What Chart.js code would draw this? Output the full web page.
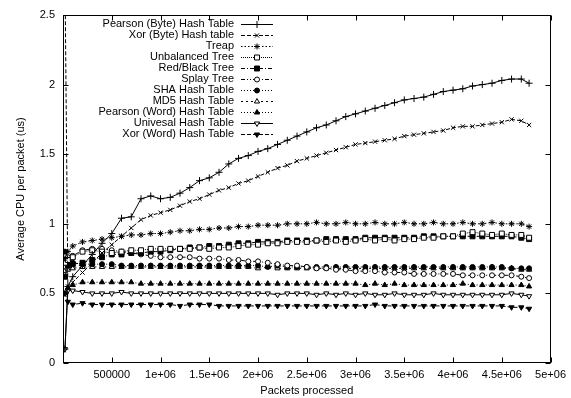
<!DOCTYPE html>
<html>
<head>
<meta charset="utf-8">
<script src="https://cdn.jsdelivr.net/npm/chart.js@4.4.1/dist/chart.umd.min.js"></script>
<style>
	body { margin: 0; background: #fff; }
	canvas { display: block; }
</style>
</head>
<body>
<canvas id="myChart" width="571" height="398"></canvas>
<script>
// packets processed (x values)
const packets = [
	20000, 50000, 100000, 200000, 300000, 400000, 500000, 600000, 700000, 800000,
	900000, 1000000, 1100000, 1200000, 1300000, 1400000, 1500000, 1600000, 1700000, 1800000,
	1900000, 2000000, 2100000, 2200000, 2300000, 2400000, 2500000, 2600000, 2700000, 2800000,
	2900000, 3000000, 3100000, 3200000, 3300000, 3400000, 3500000, 3600000, 3700000, 3800000,
	3900000, 4000000, 4100000, 4200000, 4300000, 4400000, 4500000, 4600000, 4700000, 4780000,
]

const labels = [
	'Pearson (Byte) Hash Table', 'Xor (Byte) Hash table', 'Treap', 'Unbalanced Tree',
	'Red/Black Tree', 'Splay Tree', 'SHA Hash Table', 'MD5 Hash Table',
	'Pearson (Word) Hash Table', 'Univesal Hash Table', 'Xor (Word) Hash Table',
]

const pearsonByte = [
	0.10, 0.55, 0.62, 0.70, 0.78, 0.86, 0.93, 1.04, 1.05, 1.18,
	1.20, 1.18, 1.19, 1.22, 1.26, 1.31, 1.33, 1.37, 1.43, 1.47,
	1.49, 1.52, 1.54, 1.57, 1.60, 1.63, 1.66, 1.69, 1.71, 1.74,
	1.77, 1.79, 1.81, 1.83, 1.85, 1.87, 1.89, 1.90, 1.91, 1.93,
	1.95, 1.96, 1.97, 1.99, 2.00, 2.01, 2.03, 2.04, 2.04, 2.01,
]
const xorByte = [
	2.80, 0.55, 0.58, 0.65, 0.72, 0.79, 0.85, 0.91, 0.97, 1.03,
	1.06, 1.08, 1.10, 1.13, 1.16, 1.18, 1.21, 1.24, 1.26, 1.29,
	1.31, 1.34, 1.37, 1.40, 1.42, 1.45, 1.47, 1.49, 1.51, 1.53,
	1.55, 1.57, 1.58, 1.59, 1.60, 1.61, 1.63, 1.64, 1.65, 1.66,
	1.67, 1.69, 1.70, 1.70, 1.71, 1.72, 1.73, 1.75, 1.74, 1.71,
]
const treap = [
	0.75, 0.80, 0.84, 0.87, 0.88, 0.89, 0.90, 0.91, 0.92, 0.92,
	0.93, 0.93, 0.94, 0.95, 0.95, 0.96, 0.96, 0.97, 0.97, 0.98,
	0.98, 0.99, 0.99, 0.99, 1.00, 1.00, 1.00, 1.01, 1.00, 1.00,
	1.01, 1.00, 1.00, 1.01, 1.00, 1.00, 1.01, 1.00, 1.00, 1.01,
	1.00, 1.00, 1.01, 1.00, 1.00, 1.01, 1.00, 1.00, 1.00, 0.98,
]
const unbalanced = [
	0.72, 0.74, 0.76, 0.80, 0.81, 0.80, 0.79, 0.80, 0.81, 0.81,
	0.82, 0.82, 0.82, 0.82, 0.82, 0.83, 0.82, 0.83, 0.83, 0.84,
	0.85, 0.85, 0.86, 0.86, 0.87, 0.87, 0.87, 0.88, 0.87, 0.88,
	0.87, 0.88, 0.89, 0.88, 0.89, 0.88, 0.89, 0.89, 0.90, 0.90,
	0.91, 0.91, 0.93, 0.94, 0.93, 0.92, 0.93, 0.92, 0.92, 0.90,
]
const redBlack = [
	0.62, 0.70, 0.71, 0.72, 0.74, 0.76, 0.78, 0.78, 0.79, 0.79,
	0.80, 0.80, 0.81, 0.82, 0.83, 0.83, 0.84, 0.84, 0.85, 0.86,
	0.86, 0.87, 0.87, 0.87, 0.88, 0.88, 0.88, 0.88, 0.89, 0.89,
	0.89, 0.89, 0.90, 0.90, 0.90, 0.90, 0.90, 0.90, 0.91, 0.91,
	0.91, 0.91, 0.91, 0.91, 0.91, 0.91, 0.91, 0.91, 0.90, 0.89,
]
const splay = [
	0.74, 0.76, 0.77, 0.81, 0.82, 0.82, 0.81, 0.80, 0.79, 0.78,
	0.77, 0.76, 0.76, 0.76, 0.76, 0.75, 0.75, 0.75, 0.74, 0.74,
	0.73, 0.73, 0.72, 0.71, 0.70, 0.70, 0.69, 0.68, 0.68, 0.67,
	0.67, 0.66, 0.66, 0.66, 0.65, 0.65, 0.65, 0.64, 0.64, 0.64,
	0.64, 0.64, 0.63, 0.63, 0.63, 0.63, 0.63, 0.63, 0.62, 0.61,
]
const sha = [
	0.80, 0.74, 0.72, 0.71, 0.71, 0.71, 0.71, 0.70, 0.70, 0.70,
	0.70, 0.70, 0.70, 0.70, 0.70, 0.70, 0.70, 0.70, 0.70, 0.70,
	0.70, 0.70, 0.69, 0.70, 0.69, 0.69, 0.69, 0.69, 0.69, 0.69,
	0.69, 0.69, 0.69, 0.69, 0.69, 0.69, 0.69, 0.69, 0.69, 0.69,
	0.69, 0.69, 0.69, 0.69, 0.69, 0.69, 0.69, 0.68, 0.68, 0.68,
]
const md5 = [
	0.66, 0.67, 0.68, 0.69, 0.69, 0.69, 0.69, 0.69, 0.69, 0.69,
	0.69, 0.69, 0.69, 0.69, 0.69, 0.69, 0.69, 0.69, 0.69, 0.69,
	0.69, 0.68, 0.69, 0.68, 0.68, 0.68, 0.68, 0.68, 0.68, 0.68,
	0.68, 0.68, 0.68, 0.68, 0.68, 0.68, 0.68, 0.68, 0.68, 0.68,
	0.68, 0.68, 0.68, 0.68, 0.68, 0.68, 0.68, 0.68, 0.67, 0.67,
]
const pearsonWord = [
	0.50, 0.54, 0.56, 0.58, 0.58, 0.58, 0.58, 0.58, 0.58, 0.57,
	0.57, 0.57, 0.57, 0.57, 0.57, 0.57, 0.57, 0.57, 0.57, 0.57,
	0.57, 0.57, 0.57, 0.57, 0.57, 0.57, 0.57, 0.57, 0.57, 0.57,
	0.57, 0.57, 0.56, 0.57, 0.56, 0.57, 0.56, 0.56, 0.56, 0.56,
	0.56, 0.56, 0.57, 0.56, 0.56, 0.56, 0.56, 0.56, 0.56, 0.55,
]
const universal = [
	0.10, 0.52, 0.52, 0.51, 0.50, 0.50, 0.50, 0.51, 0.50, 0.50,
	0.50, 0.50, 0.50, 0.50, 0.50, 0.50, 0.50, 0.50, 0.50, 0.50,
	0.50, 0.50, 0.50, 0.49, 0.50, 0.50, 0.50, 0.49, 0.50, 0.49,
	0.50, 0.49, 0.50, 0.49, 0.49, 0.50, 0.49, 0.49, 0.49, 0.50,
	0.49, 0.49, 0.49, 0.49, 0.49, 0.49, 0.49, 0.50, 0.49, 0.48,
]
const xorWord = [
	0.50, 0.44, 0.42, 0.43, 0.42, 0.42, 0.42, 0.42, 0.42, 0.42,
	0.42, 0.42, 0.42, 0.41, 0.42, 0.42, 0.42, 0.41, 0.41, 0.41,
	0.41, 0.41, 0.41, 0.41, 0.41, 0.41, 0.41, 0.41, 0.41, 0.41,
	0.41, 0.41, 0.41, 0.42, 0.41, 0.41, 0.41, 0.41, 0.41, 0.41,
	0.41, 0.41, 0.41, 0.41, 0.41, 0.41, 0.41, 0.40, 0.40, 0.39,
]

const series = [pearsonByte, xorByte, treap, unbalanced, redBlack, splay, sha, md5, pearsonWord, universal, xorWord]

// gnuplot-like line / point types
const styles = [
	{ dash: [], point: 'cross', fill: '#000', r: 3.5 },
	{ dash: [4, 2], point: 'crossRot', fill: '#000', r: 3 },
	{ dash: [1.5, 2], point: 'star', fill: '#000', r: 3 },
	{ dash: [1, 1], point: 'rect', fill: '#fff', r: 3.5 },
	{ dash: [4, 2, 1, 2], point: 'rect', fill: '#000', r: 3.5 },
	{ dash: [4, 2, 1, 2, 1, 2], point: 'circle', fill: '#fff', r: 2.5 },
	{ dash: [1, 2], point: 'circle', fill: '#000', r: 2.5 },
	{ dash: [2, 3], point: 'triangle', fill: '#fff', r: 3 },
	{ dash: [1, 2], point: 'triangle', fill: '#000', r: 3 },
	{ dash: [], point: 'triangle', fill: '#fff', r: 3, rot: 180 },
	{ dash: [4, 2], point: 'triangle', fill: '#000', r: 3, rot: 180 },
]

const fontFamily = '"Liberation Sans", Arial, Helvetica, sans-serif'
Chart.defaults.font.family = fontFamily
Chart.defaults.font.size = 11
Chart.defaults.color = '#000'

const formatPackets = (v) => {
	if (v === 0) return ''
	if (v < 1000000) return String(v)
	return (v / 1000000) + 'e+06'
}

// frame with inward ticks on all four sides
const frameTicks = {
	id: 'frameTicks',
	afterDraw(chart) {
		const { ctx, chartArea: a, scales } = chart
		const L = Math.round(a.left) + 0.5
		const R = Math.round(a.right) - 0.5
		const T = Math.round(a.top) + 0.5
		const B = Math.round(a.bottom) - 0.5
		ctx.save()
		ctx.strokeStyle = '#000'
		ctx.lineWidth = 1
		ctx.strokeRect(L, T, R - L, B - T)
		ctx.beginPath()
		scales.x.ticks.forEach((t) => {
			const px = Math.round(scales.x.getPixelForValue(t.value)) + 0.5
			ctx.moveTo(px, B)
			ctx.lineTo(px, B - 5)
			ctx.moveTo(px, T)
			ctx.lineTo(px, T + 5)
		})
		scales.y.ticks.forEach((t) => {
			const py = Math.round(scales.y.getPixelForValue(t.value)) + 0.5
			ctx.moveTo(L, py)
			ctx.lineTo(L + 5, py)
			ctx.moveTo(R, py)
			ctx.lineTo(R - 5, py)
		})
		ctx.stroke()
		ctx.restore()
	},
}

// key: right-aligned labels with line sample on the right
const keyBox = {
	id: 'keyBox',
	afterDatasetsDraw(chart) {
		const ctx = chart.ctx
		ctx.save()
		ctx.font = '11px ' + fontFamily
		ctx.textAlign = 'right'
		ctx.textBaseline = 'middle'
		chart.data.datasets.forEach((ds, i) => {
			const y = 24 + i * 11
			ctx.fillStyle = '#000'
			ctx.fillText(ds.label, 234, y)
			ctx.strokeStyle = '#000'
			ctx.lineWidth = 1
			ctx.setLineDash(ds.borderDash)
			ctx.beginPath()
			ctx.moveTo(241, y + 0.5)
			ctx.lineTo(273, y + 0.5)
			ctx.stroke()
			ctx.setLineDash([])
			ctx.fillStyle = ds.pointBackgroundColor
			Chart.helpers.drawPoint(ctx, {
				pointStyle: ds.pointStyle,
				rotation: ds.pointRotation,
				radius: ds.pointRadius,
				borderWidth: 1,
			}, 257, y + 0.5)
		})
		ctx.restore()
	},
}

const chart = document.getElementById('myChart')
new Chart(chart, {
	type: 'line',
	data: {
		datasets: series.map((values, i) => ({
			label: labels[i],
			data: values.map((v, j) => ({ x: packets[j], y: v })),
			borderColor: '#000',
			borderWidth: 1,
			borderDash: styles[i].dash,
			pointStyle: styles[i].point,
			pointRadius: styles[i].r,
			pointRotation: styles[i].rot || 0,
			pointBorderColor: '#000',
			pointBorderWidth: 1,
			pointBackgroundColor: styles[i].fill,
			tension: 0,
			fill: false,
		})),
	},
	options: {
		responsive: false,
		animation: false,
		layout: { padding: { left: 0, right: 16, top: 15, bottom: 0 } },
		scales: {
			x: {
				type: 'linear',
				min: 0,
				max: 5000000,
				grid: { display: false, drawTicks: false },
				border: { display: false },
				ticks: { stepSize: 500000, autoSkip: false, maxRotation: 0, padding: 5, callback: formatPackets },
				title: { display: true, text: 'Packets processed', padding: { top: 0, bottom: 0 } },
				afterFit: (s) => { s.height = 35 },
			},
			y: {
				min: 0,
				max: 2.5,
				grid: { display: false, drawTicks: false },
				border: { display: false },
				ticks: { stepSize: 0.5, padding: 8, callback: (v) => String(v) },
				title: { display: true, text: 'Average CPU per packet (us)', padding: { top: 14, bottom: 0 } },
				afterFit: (s) => { s.width = 63 },
			},
		},
		plugins: {
			legend: { display: false },
			tooltip: { enabled: false },
		},
	},
	plugins: [frameTicks, keyBox],
})
</script>
</body>
</html>
